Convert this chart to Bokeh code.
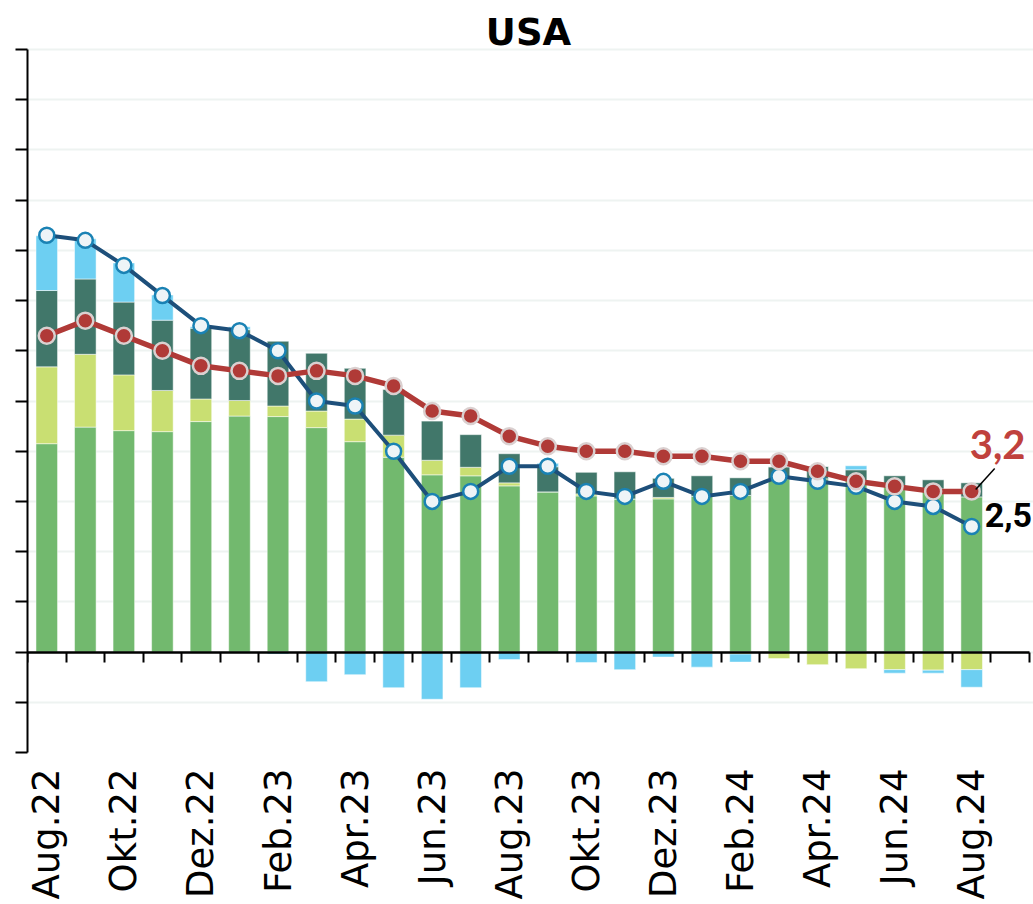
import math
from bokeh.plotting import figure
from bokeh.models import Range1d, FixedTicker, LinearAxis, Label, Grid, ColumnDataSource
from bokeh.embed import file_html
from bokeh.resources import INLINE

# ---------------- data ----------------
months = ["Aug.22", "Sep.22", "Okt.22", "Nov.22", "Dez.22", "Jan.23", "Feb.23", "Mär.23",
          "Apr.23", "Mai.23", "Jun.23", "Jul.23", "Aug.23", "Sep.23", "Okt.23", "Nov.23",
          "Dez.23", "Jan.24", "Feb.24", "Mär.24", "Apr.24", "Mai.24", "Jun.24", "Jul.24", "Aug.24"]
tick_labels = ["Aug.22", "Okt.22", "Dez.22", "Feb.23", "Apr.23", "Jun.23", "Aug.23",
               "Okt.23", "Dez.23", "Feb.24", "Apr.24", "Jun.24", "Aug.24"]

services = [4.15, 4.48, 4.41, 4.39, 4.59, 4.70, 4.69, 4.47, 4.19, 3.88, 3.53, 3.51, 3.31,
            3.19, 3.11, 3.05, 3.05, 3.10, 3.12, 3.45, 3.45, 3.42, 3.30, 3.25, 3.09]
goods = [1.53, 1.45, 1.11, 0.82, 0.45, 0.31, 0.21, 0.33, 0.45, 0.44, 0.29, 0.17, 0.06,
         0.00, 0.04, 0.00, 0.03, -0.03, -0.04, -0.13, -0.25, -0.33, -0.35, -0.36, -0.35]
food = [1.52, 1.50, 1.45, 1.40, 1.41, 1.41, 1.29, 1.15, 1.01, 0.91, 0.78, 0.65, 0.58,
        0.50, 0.43, 0.54, 0.38, 0.41, 0.35, 0.24, 0.25, 0.21, 0.21, 0.18, 0.28]
energy = [1.09, 0.80, 0.78, 0.50, 0.03, 0.06, -0.04, -0.59, -0.45, -0.71, -0.94, -0.71, -0.15,
          0.07, -0.21, -0.35, -0.10, -0.27, -0.16, 0.00, 0.00, 0.08, -0.07, -0.06, -0.35]

headline = [8.3, 8.2, 7.7, 7.1, 6.5, 6.4, 6.0, 5.0, 4.9, 4.0, 3.0, 3.2, 3.7, 3.7, 3.2, 3.1,
            3.4, 3.1, 3.2, 3.5, 3.4, 3.3, 3.0, 2.9, 2.5]
core = [6.3, 6.6, 6.3, 6.0, 5.7, 5.6, 5.5, 5.6, 5.5, 5.3, 4.8, 4.7, 4.3, 4.1, 4.0, 4.0,
        3.9, 3.9, 3.8, 3.8, 3.6, 3.4, 3.3, 3.2, 3.2]

y_min, y_max = -2, 12

# ---------------- styling ----------------
C_SERV = "#72B96E"
C_GOODS = "#C9DF72"
C_FOOD = "#41776A"
C_ENERGY = "#6DCFF2"
C_RED = "#B03A37"
C_NAVY = "#1D4F7A"
FONT = "DejaVu Sans"

n_slots = len(months) + 1
xs = [i + 0.5 for i in range(len(months))]

W, H = 1033, 904
LEFT, BOTTOM = 27, 152
AXIS_W = 1002                      # width of the drawn category axis in px
px_x = AXIS_W / n_slots
FRAME_W = W - LEFT
AXIS_H = 703                       # px for the y range -2..12
px_y = AXIS_H / (y_max - y_min)
FRAME_H = H - BOTTOM

p = figure(width=W, height=H,
           x_range=Range1d(0, FRAME_W / px_x),
           y_range=Range1d(y_min, y_min + FRAME_H / px_y),
           output_backend="svg", toolbar_location=None,
           x_axis_location=None, y_axis_location=None,
           min_border_left=LEFT, min_border_right=0, min_border_top=0, min_border_bottom=BOTTOM)
p.outline_line_color = None
p.grid.visible = False
p.background_fill_color = "white"
p.border_fill_color = "white"

# grid
p.add_layout(Grid(dimension=1, ticker=FixedTicker(ticks=list(range(y_min, y_max + 1))),
                  grid_line_color="#EEF3F1", grid_line_width=2))

# y axis (ticks only)
yax = LinearAxis(ticker=FixedTicker(ticks=list(range(y_min, y_max + 1))), bounds=(y_min, y_max),
                 major_label_text_font_size="0px", major_label_text_color=None,
                 major_label_standoff=0,
                 major_tick_out=12, major_tick_in=0, minor_tick_out=0, minor_tick_in=0,
                 axis_line_width=2, major_tick_line_width=2,
                 axis_line_color="black", major_tick_line_color="black")
p.add_layout(yax, "left")

# bottom label axis
overrides = {}
for lab in tick_labels:
    overrides[months.index(lab) + 0.5] = lab
lab_axis = LinearAxis(ticker=FixedTicker(ticks=sorted(overrides.keys())),
                      major_label_overrides=overrides,
                      major_label_orientation=math.pi / 2,
                      axis_line_color=None, major_tick_line_color=None, minor_tick_line_color=None,
                      major_tick_out=0, major_tick_in=0, major_label_standoff=16,
                      major_label_text_font=FONT, major_label_text_font_size="37px",
                      major_label_text_color="black")
p.add_layout(lab_axis, "below")

# zero axis with category boundary ticks
zero_axis = LinearAxis(fixed_location=0, ticker=FixedTicker(ticks=list(range(n_slots + 1))),
                       bounds=(0, n_slots),
                       major_label_text_font_size="0px", major_label_text_color=None,
                       major_label_standoff=0,
                       major_tick_out=10, major_tick_in=0, minor_tick_out=0, minor_tick_in=0,
                       axis_line_width=2.5, major_tick_line_width=2,
                       axis_line_color="black", major_tick_line_color="black")
p.add_layout(zero_axis, "below")

# stacked bars (positives up, negatives down)
pos = [0.0] * len(months)
neg = [0.0] * len(months)
for comp, col in [(services, C_SERV), (goods, C_GOODS), (food, C_FOOD), (energy, C_ENERGY)]:
    bottoms, tops = [], []
    for i, v in enumerate(comp):
        if v >= 0:
            bottoms.append(pos[i]); tops.append(pos[i] + v); pos[i] += v
        else:
            tops.append(neg[i]); bottoms.append(neg[i] + v); neg[i] += v
    src = ColumnDataSource(dict(x=xs, bottom=bottoms, top=tops))
    p.vbar(x="x", bottom="bottom", top="top", width=0.56, source=src,
           fill_color=col, line_color="white", line_alpha=0.5, line_width=1)

# headline line
p.line(xs, headline, line_color=C_NAVY, line_width=4)
p.scatter(xs, headline, size=15, fill_color="#EEF4F7", line_color="#1A82B4", line_width=2.5)

# core line
p.line(xs, core, line_color=C_RED, line_width=5.5)
p.scatter(xs, core, size=16, fill_color=C_RED, line_color="#DAD0D0", line_width=2.5)

# title
p.add_layout(Label(x=n_slots / 2, y=y_max, y_offset=17, text="USA", text_align="center",
                   text_baseline="alphabetic", text_font=FONT, text_font_style="bold",
                   text_font_size="37px", text_color="black"))

def fmt(v):
    return f"{v:.1f}".replace(".", ",")

# last-value annotations
p.add_layout(Label(x=xs[-1], y=core[-1], x_offset=26, y_offset=47, text=fmt(core[-1]),
                   text_align="center", text_baseline="alphabetic", text_font="Lato",
                   text_font_style="bold", text_font_size="40px", text_color="#C0413D"))
p.add_layout(Label(x=xs[-1], y=headline[-1], x_offset=13, y_offset=12, text=fmt(headline[-1]),
                   text_align="left", text_baseline="middle", text_font="Roboto",
                   text_font_style="bold", text_font_size="34px", text_color="black"))
p.segment(x0=[xs[-1] + 4 / px_x], y0=[core[-1] + 2 / px_y],
          x1=[xs[-1] + 23 / px_x], y1=[core[-1] + 23 / px_y],
          line_color="black", line_width=1.5)

open("out.html", "w").write(file_html(p, INLINE))
